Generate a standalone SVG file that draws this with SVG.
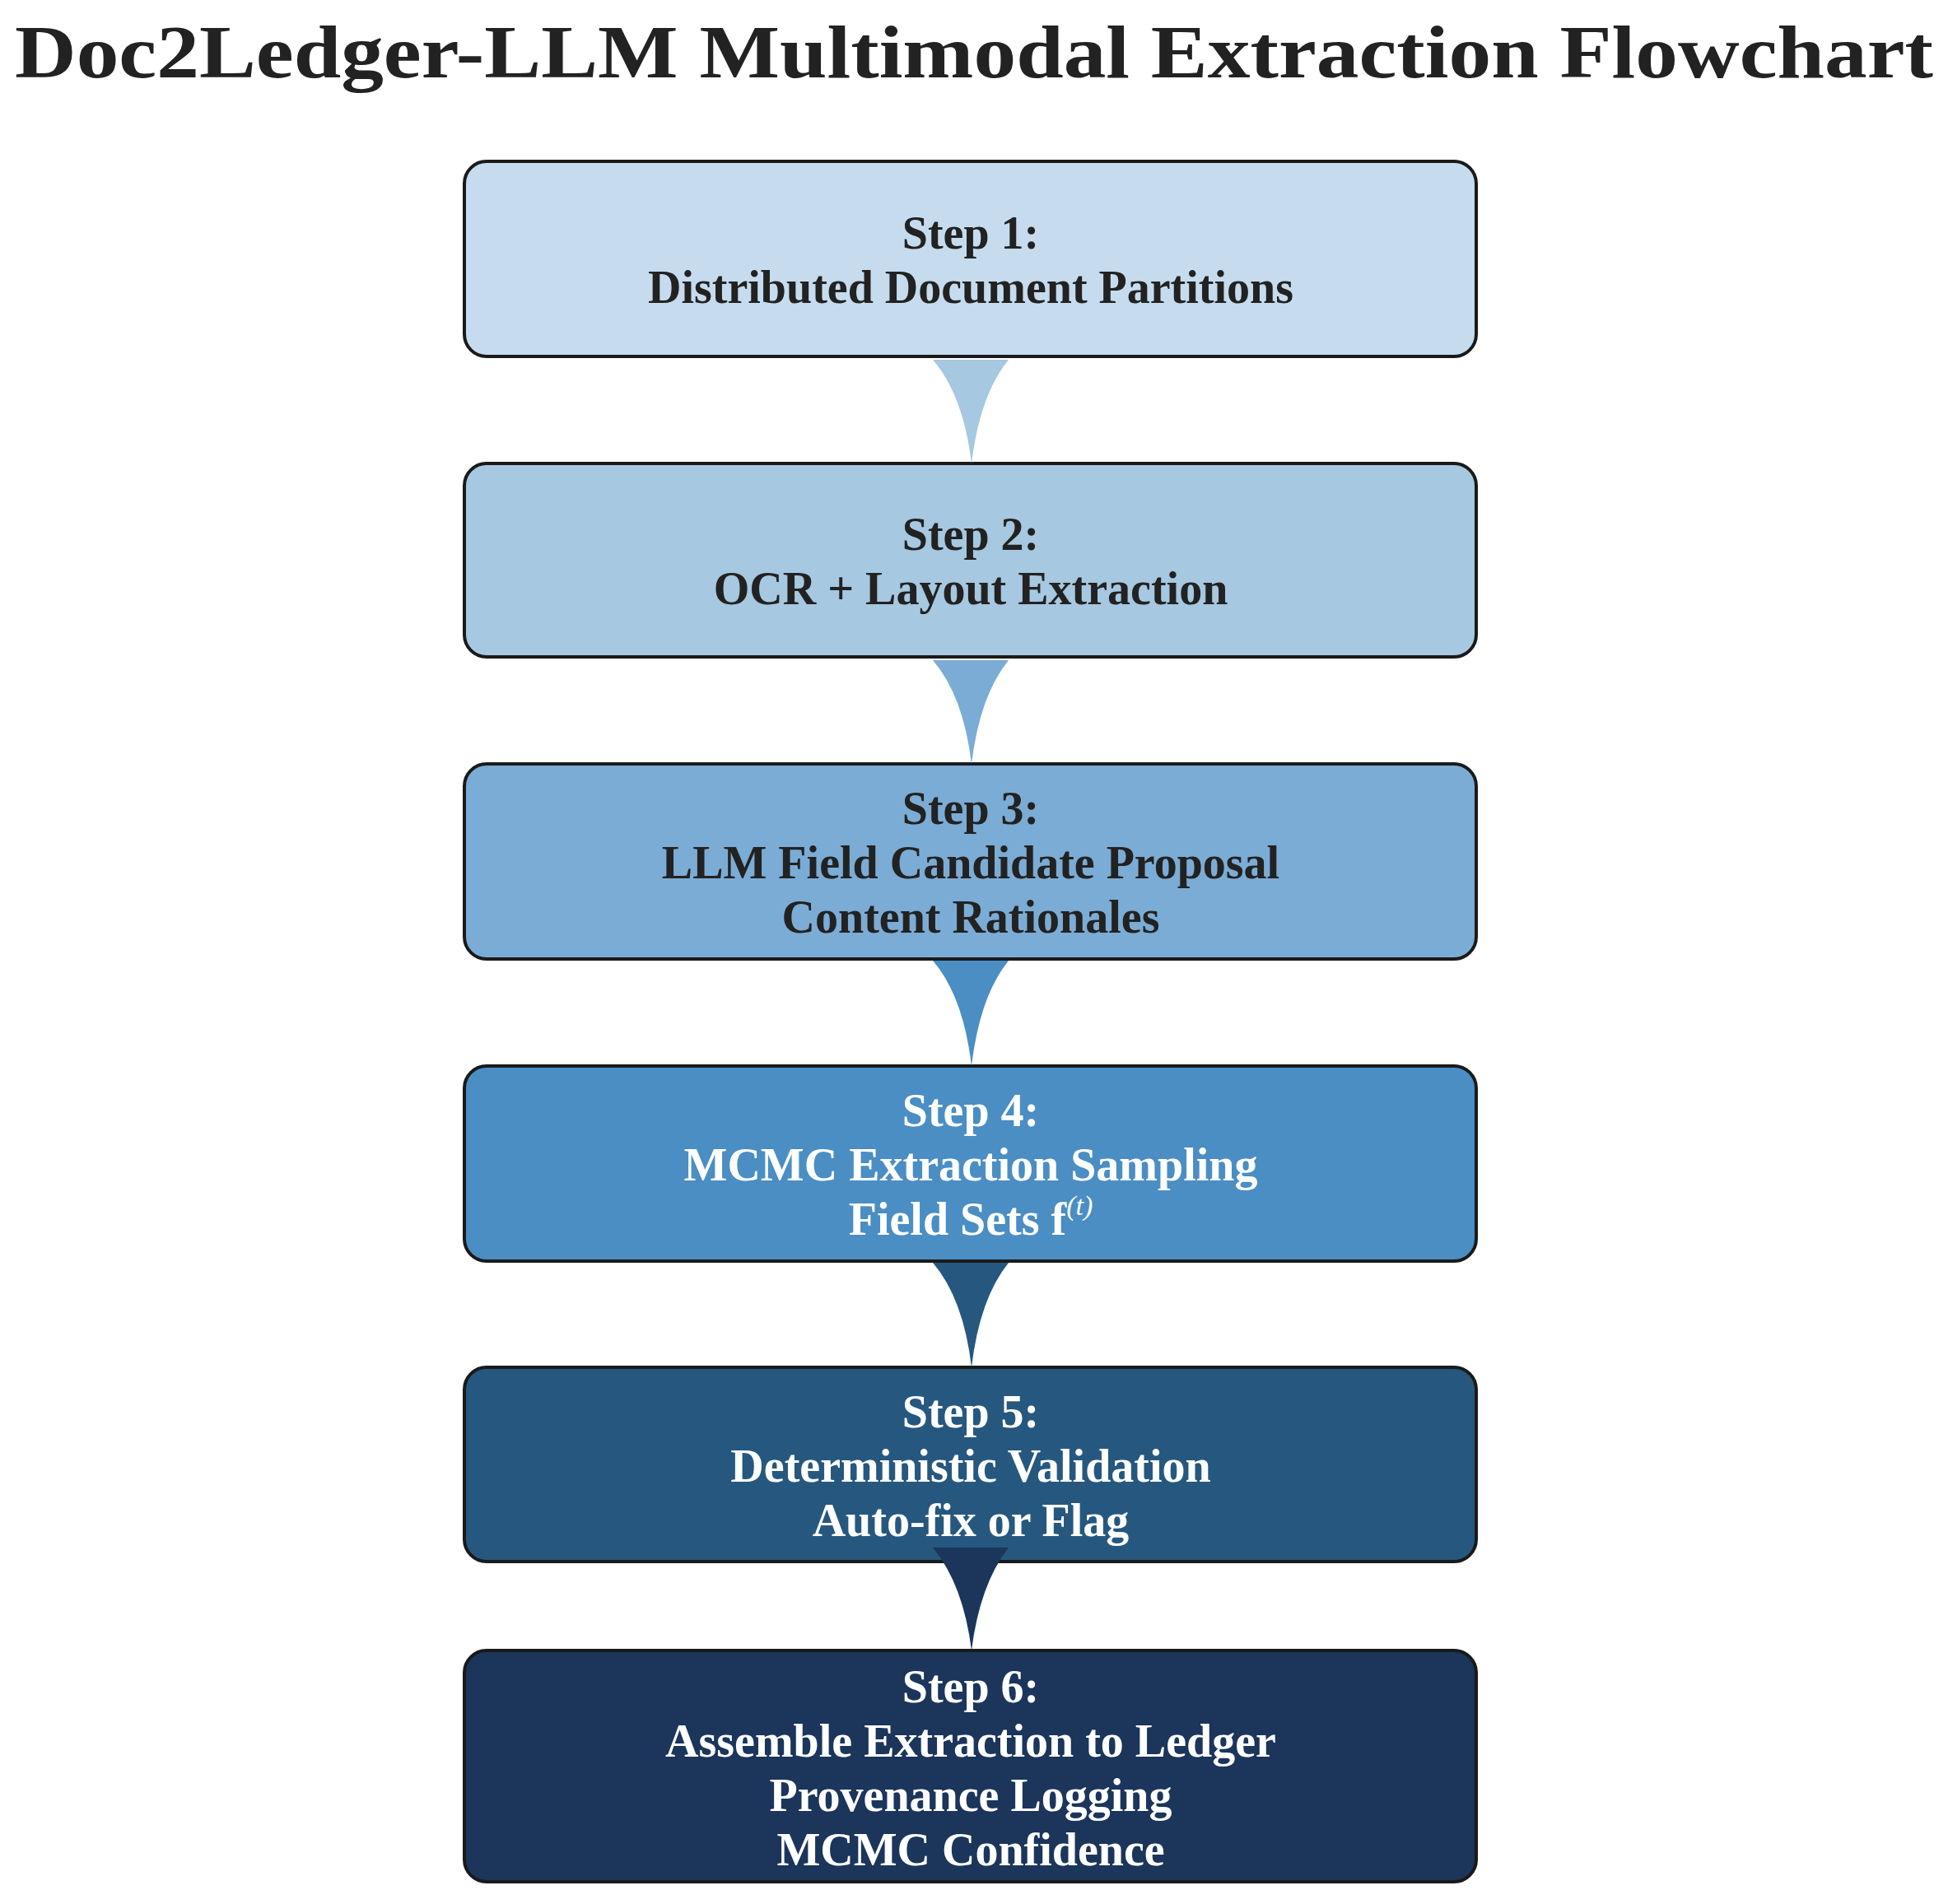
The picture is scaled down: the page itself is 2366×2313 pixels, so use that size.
<svg xmlns="http://www.w3.org/2000/svg" width="2366" height="2313" viewBox="0 0 2366 2313">
<style>
.box{stroke:#1a1a1a;stroke-width:4}
.t{font-family:"Liberation Serif","DejaVu Serif",serif;font-weight:bold;font-size:56px;text-anchor:middle}
.dk{fill:#222}
.lt{fill:#fff}
</style>
<rect width="2366" height="2313" fill="#fff"/>
<text x="1183" y="94" font-family="Liberation Serif, serif" font-weight="bold" font-size="92" text-anchor="middle" fill="#222" textLength="2330" lengthAdjust="spacingAndGlyphs">Doc2Ledger-LLM Multimodal Extraction Flowchart</text>
<g id="step1"><rect class="box" x="564" y="196" width="1229" height="237" rx="27" fill="#c6dcee"/>
<text class="t dk" x="1179" y="302">Step 1:</text><text class="t dk" x="1179" y="368">Distributed Document Partitions</text></g>
<g id="step2"><rect class="box" x="564" y="563" width="1229" height="235" rx="27" fill="#a6c8e0"/>
<text class="t dk" x="1179" y="668">Step 2:</text><text class="t dk" x="1179" y="734">OCR + Layout Extraction</text></g>
<g id="step3"><rect class="box" x="564" y="928" width="1229" height="237" rx="27" fill="#7bacd5"/>
<text class="t dk" x="1179" y="1001">Step 3:</text><text class="t dk" x="1179" y="1067">LLM Field Candidate Proposal</text><text class="t dk" x="1179" y="1133">Content Rationales</text></g>
<g id="step4"><rect class="box" x="564" y="1295" width="1229" height="237" rx="27" fill="#4a8ec4"/>
<text class="t lt" x="1179" y="1368">Step 4:</text><text class="t lt" x="1179" y="1434">MCMC Extraction Sampling</text><text class="t lt" x="1179" y="1500">Field Sets f<tspan font-style="italic" font-weight="normal" font-size="34" dy="-24">(t)</tspan></text></g>
<g id="step5"><rect class="box" x="564" y="1661" width="1229" height="236" rx="27" fill="#26587f"/>
<text class="t lt" x="1179" y="1734">Step 5:</text><text class="t lt" x="1179" y="1800">Deterministic Validation</text><text class="t lt" x="1179" y="1866">Auto-fix or Flag</text></g>
<g id="step6"><rect class="box" x="564" y="2005" width="1229" height="281" rx="27" fill="#1b355b"/>
<text class="t lt" x="1179" y="2068">Step 6:</text><text class="t lt" x="1179" y="2134">Assemble Extraction to Ledger</text><text class="t lt" x="1179" y="2200">Provenance Logging</text><text class="t lt" x="1179" y="2266">MCMC Confidence</text></g>
<g id="connectors">
<path d="M1133 437 Q1170 480 1180 563 Q1190 480 1225 437 Z" fill="#a6c8e0"/>
<path d="M1133 802 Q1170 845 1180 928 Q1190 845 1225 802 Z" fill="#7bacd5"/>
<path d="M1133 1167 Q1170 1210 1180 1295 Q1190 1210 1225 1167 Z" fill="#4a8ec4"/>
<path d="M1133 1534 Q1170 1577 1180 1661 Q1190 1577 1225 1534 Z" fill="#26587f"/>
<path d="M1133 1880 Q1170 1925 1180 2005 Q1190 1925 1225 1880 Z" fill="#1b355b"/>
</g>
</svg>
